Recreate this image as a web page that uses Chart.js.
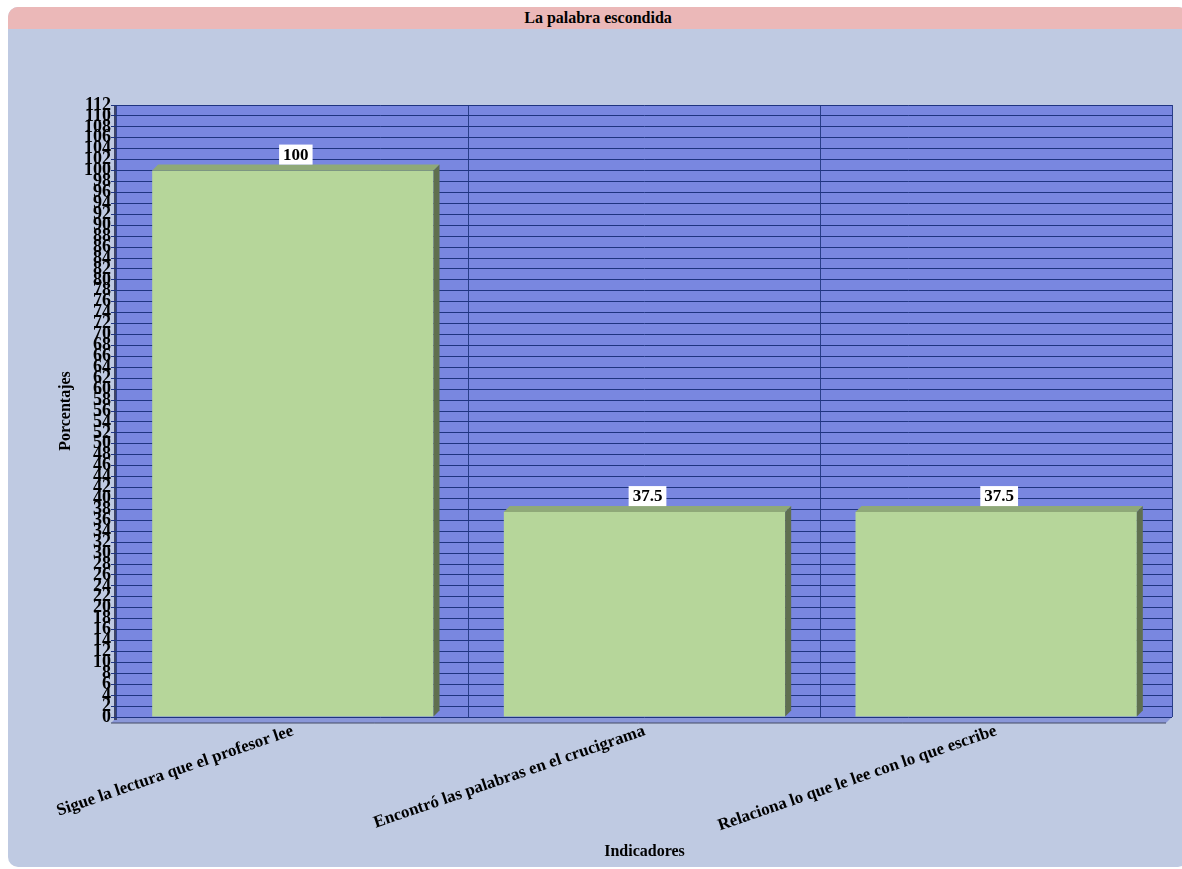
<!DOCTYPE html>
<html>
<head>
<meta charset="utf-8">
<script src="https://cdn.jsdelivr.net/npm/chart.js@4.4.1/dist/chart.umd.min.js"></script>
<style>
  body { margin: 0; background: #ffffff; }
  #panel {
    position: absolute; left: 8px; top: 7px; width: 1180px; height: 860px;
    background: #bfcae2; border-radius: 10px; overflow: hidden;
  }
  #titulo {
    height: 22px; background: #ebb8b8; text-align: center;
    font: bold 16px "Liberation Serif", serif; line-height: 22px; color: #000;
  }
  #wrap { position: absolute; left: 0; top: 22px; width: 1174px; height: 838px; }
</style>
</head>
<body>
<div id="panel">
  <div id="titulo">La palabra escondida</div>
  <div id="wrap"><canvas id="myChart" width="1174" height="838"></canvas></div>
</div>
<script>
const categorias = [
  "Sigue la lectura que el profesor lee",
  "Encontró las palabras en el crucigrama",
  "Relaciona lo que le lee con lo que escribe"
];
const porcentajes = [100, 37.5, 37.5];
const yMin = 0;
const yMax = 112;
const yPaso = 2;

// cara superior y lateral de las barras (efecto 3D) y etiquetas de valor
const barras3d = {
  id: "barras3d",
  afterDatasetsDraw(chart) {
    const ctx = chart.ctx;
    const meta = chart.getDatasetMeta(0);
    const d = 6;
    meta.data.forEach(function (bar, i) {
      const left = bar.x - bar.width / 2;
      const right = bar.x + bar.width / 2;
      const top = bar.y;
      const bottom = bar.base;
      ctx.save();
      ctx.fillStyle = "#8fa978";
      ctx.beginPath();
      ctx.moveTo(left, top);
      ctx.lineTo(left + d, top - d);
      ctx.lineTo(right + d, top - d);
      ctx.lineTo(right, top);
      ctx.closePath();
      ctx.fill();
      ctx.fillStyle = "#5f6f50";
      ctx.beginPath();
      ctx.moveTo(right, top);
      ctx.lineTo(right + d, top - d);
      ctx.lineTo(right + d, bottom - d);
      ctx.lineTo(right, bottom);
      ctx.closePath();
      ctx.fill();
      // etiqueta
      const txt = String(porcentajes[i]);
      ctx.font = "bold 17px 'Liberation Serif', serif";
      const w = ctx.measureText(txt).width + 8;
      const cx = bar.x + 3;
      const cy = top - 16;
      ctx.fillStyle = "#ffffff";
      ctx.fillRect(cx - w / 2, cy - 10, w, 20);
      ctx.fillStyle = "#000000";
      ctx.textAlign = "center";
      ctx.textBaseline = "middle";
      ctx.fillText(txt, cx, cy + 1);
      ctx.restore();
    });
  }
};

const fondoPlot = {
  id: "fondoPlot",
  beforeDraw(chart) {
    const a = chart.chartArea;
    const ctx = chart.ctx;
    ctx.save();
    ctx.fillStyle = "#7987e0";
    ctx.fillRect(a.left, a.top, a.right - a.left, a.bottom - a.top);
    // piso
    ctx.fillStyle = "#8a97d8";
    ctx.beginPath();
    ctx.moveTo(a.left, a.bottom);
    ctx.lineTo(a.right, a.bottom);
    ctx.lineTo(a.right - 6, a.bottom + 6);
    ctx.lineTo(a.left - 6, a.bottom + 6);
    ctx.closePath();
    ctx.fill();
    ctx.strokeStyle = "#444a66";
    ctx.lineWidth = 1;
    ctx.beginPath();
    ctx.moveTo(a.left - 6, a.bottom + 6);
    ctx.lineTo(a.right - 6, a.bottom + 6);
    ctx.stroke();
    // pared izquierda
    ctx.fillStyle = "#3e4466";
    ctx.fillRect(a.left - 3, a.top, 3, a.bottom - a.top + 3);
    ctx.restore();
  }
};

document.addEventListener("DOMContentLoaded", function () {
  var canvas = document.getElementById("myChart");
  var ctx = canvas.getContext("2d");
  new Chart(ctx, {
    type: "bar",
    data: {
      labels: categorias,
      datasets: [
        {
          data: porcentajes,
          backgroundColor: "#b6d69a",
          borderWidth: 0,
          barPercentage: 0.8,
          categoryPercentage: 1.0
        }
      ]
    },
    plugins: [fondoPlot, barras3d],
    options: {
      responsive: false,
      animation: false,
      layout: { padding: { left: 48, top: 76, right: 10, bottom: 4 } },
      plugins: {
        legend: { display: false },
        tooltip: { enabled: false }
      },
      scales: {
        x: {
          grid: { color: "#2a3f8a", lineWidth: 1, drawTicks: false, offset: true },
          border: { display: false },
          ticks: {
            color: "#000",
            font: { family: "'Liberation Serif', serif", size: 17, weight: "bold" },
            minRotation: 19,
            maxRotation: 19,
            padding: 4
          },
          title: {
            display: true,
            text: "Indicadores",
            color: "#000",
            font: { family: "'Liberation Serif', serif", size: 16, weight: "bold" },
            padding: 2
          },
          afterFit: function (s) { s.height = 146; }
        },
        y: {
          min: yMin,
          max: yMax,
          grid: { color: "#1f3480", lineWidth: 1, tickLength: 6 },
          border: { display: false },
          ticks: {
            stepSize: yPaso,
            autoSkip: false,
            color: "#000",
            font: { family: "'Liberation Serif', serif", size: 18, weight: "bold" },
            padding: 0
          },
          title: {
            display: true,
            text: "Porcentajes",
            color: "#000",
            font: { family: "'Liberation Serif', serif", size: 16, weight: "bold" },
            padding: 0
          },
          afterFit: function (s) { s.width = 61; }
        }
      }
    }
  });
});
</script>
</body>
</html>
